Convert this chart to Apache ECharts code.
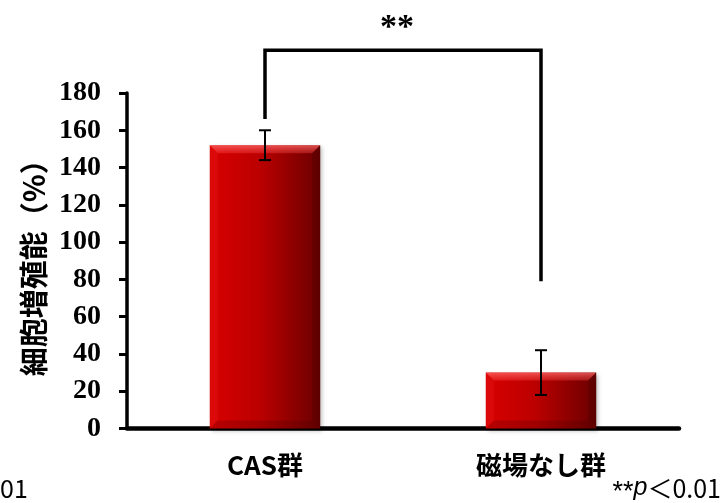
<!DOCTYPE html>
<html>
<head>
<meta charset="utf-8">
<script src="https://cdn.jsdelivr.net/npm/echarts@6/dist/echarts.min.js"></script>
<style>
  html, body { margin: 0; padding: 0; background: #fff; }
  #chart { width: 721px; height: 503px; }
</style>
</head>
<body>
<div id="chart"></div>
<script>
// Cell proliferation by group (mean ± error)
const categories = ['CAS群', '磁場なし群'];
const values = [152, 30];
const errors = [8, 12];

// Y axis scale
const yMin = 0;
const yMax = 180;
const yStep = 20;

// Significance bracket: height of the bar and where each leg ends (axis units)
const bracketTop = 203;
const bracketLegEnds = [166, 79];
const bracketMark = '**';
const bracketMarkLevel = 215;

const chart = echarts.init(document.getElementById('chart'), null, { renderer: 'canvas' });

const serifBold = { fontFamily: '"Liberation Serif", "Times New Roman", serif', fontWeight: 'bold' };
const gothic = '"Noto Sans CJK JP", "Noto Sans", sans-serif';

const barGradient = new echarts.graphic.LinearGradient(0, 0, 1, 0, [
  { offset: 0, color: '#d80000' },
  { offset: 0.45, color: '#bb0000' },
  { offset: 1, color: '#6a0000' }
]);

chart.setOption({
  animation: false,
  backgroundColor: '#ffffff',
  grid: { left: 127, right: 42, top: 93, bottom: 74.5, containLabel: false },
  xAxis: {
    type: 'category',
    data: categories,
    axisLine: { show: true, lineStyle: { color: '#000', width: 4.5 } },
    axisTick: { show: false },
    axisLabel: {
      color: '#000', fontSize: 26, fontWeight: 'bold', fontFamily: gothic,
      margin: 24
    },
    splitLine: { show: false }
  },
  yAxis: {
    type: 'value',
    min: yMin, max: yMax, interval: yStep,
    name: '細胞増殖能（%）',
    nameLocation: 'middle',
    nameGap: 74,
    nameRotate: 90,
    nameTextStyle: { color: '#000', fontSize: 29, fontWeight: 'bold', fontFamily: gothic },
    axisLine: { show: true, lineStyle: { color: '#000', width: 3.5 } },
    axisTick: { show: true, inside: false, length: 8, lineStyle: { color: '#000', width: 3 } },
    axisLabel: Object.assign({ color: '#000', fontSize: 28, margin: 26 }, serifBold),
    splitLine: { show: false }
  },
  series: [
    {
      type: 'bar',
      data: values,
      barWidth: '40%',
      itemStyle: {
        color: barGradient,
        shadowColor: 'rgba(0,0,0,0.25)',
        shadowBlur: 4,
        shadowOffsetX: 2,
        shadowOffsetY: 2
      },
      z: 2
    },
    {
      // bevel shading on each bar
      type: 'custom',
      data: values.map((v, i) => [i, v]),
      z: 3,
      silent: true,
      renderItem: function (params, api) {
        const i = api.value(0);
        const top = api.coord([i, api.value(1)]);
        const bot = api.coord([i, 0]);
        const w = api.size([1, 0])[0] * 0.4;
        const x0 = top[0] - w / 2, x1 = top[0] + w / 2;
        const y0 = top[1], y1 = bot[1];
        const b = 8;
        return {
          type: 'group',
          children: [
            {
              type: 'polygon',
              shape: { points: [[x0, y0], [x1, y0], [x1 - b, y0 + b], [x0 + b, y0 + b]] },
              style: {
                fill: new echarts.graphic.LinearGradient(0, 0, 0, 1, [
                  { offset: 0, color: 'rgba(255,110,110,0.75)' },
                  { offset: 1, color: 'rgba(255,70,70,0.35)' }
                ])
              }
            },
            {
              type: 'polygon',
              shape: { points: [[x0, y0], [x0 + b, y0 + b], [x0 + b, y1 - b], [x0, y1]] },
              style: { fill: 'rgba(255,60,60,0.15)' }
            },
            {
              type: 'polygon',
              shape: { points: [[x1, y0], [x1 - b, y0 + b], [x1 - b, y1 - b], [x1, y1]] },
              style: { fill: 'rgba(40,0,0,0.2)' }
            },
            {
              type: 'polygon',
              shape: { points: [[x0, y1], [x0 + b, y1 - b], [x1 - b, y1 - b], [x1, y1]] },
              style: { fill: 'rgba(60,0,0,0.2)' }
            }
          ]
        };
      }
    },
    {
      // error bars
      type: 'custom',
      data: values.map((v, i) => [i, v, errors[i]]),
      z: 4,
      silent: true,
      renderItem: function (params, api) {
        const i = api.value(0), v = api.value(1), e = api.value(2);
        const hi = api.coord([i, v + e]);
        const lo = api.coord([i, v - e]);
        const c = 6;
        const st = { stroke: '#000', lineWidth: 2 };
        return {
          type: 'group',
          children: [
            { type: 'line', shape: { x1: hi[0], y1: hi[1], x2: lo[0], y2: lo[1] }, style: st },
            { type: 'line', shape: { x1: hi[0] - c, y1: hi[1], x2: hi[0] + c, y2: hi[1] }, style: st },
            { type: 'line', shape: { x1: lo[0] - c, y1: lo[1], x2: lo[0] + c, y2: lo[1] }, style: st }
          ]
        };
      }
    },
    {
      // significance bracket between the two groups
      type: 'custom',
      data: [[0, 1, bracketTop, bracketLegEnds[0], bracketLegEnds[1]]],
      z: 5,
      silent: true,
      clip: false,
      renderItem: function (params, api) {
        const a = api.coord([api.value(0), api.value(3)]);
        const b = api.coord([api.value(1), api.value(4)]);
        const ta = api.coord([api.value(0), api.value(2)]);
        const tb = api.coord([api.value(1), api.value(2)]);
        const markY = api.coord([api.value(0), bracketMarkLevel])[1];
        const midX = (ta[0] + tb[0]) / 2;
        return {
          type: 'group',
          children: [
            {
              type: 'polyline',
              shape: { points: [a, ta, tb, b] },
              style: { stroke: '#000', lineWidth: 3.5, fill: null, lineJoin: 'miter' }
            },
            {
              type: 'text',
              x: midX - 6, y: markY,
              style: {
                text: bracketMark, fill: '#000', fontSize: 34, fontWeight: 'bold',
                fontFamily: '"Liberation Serif", serif',
                align: 'center', verticalAlign: 'middle'
              }
            }
          ]
        };
      }
    }
  ],
  graphic: [
    {
      type: 'text', left: 0, top: 476,
      style: { text: '01', fill: '#000', fontSize: 25, fontFamily: gothic }
    },
    {
      type: 'text', right: 0, top: 476,
      style: {
        text: '{s|**}{p|p}＜0.01',
        fill: '#000', fontSize: 25, fontFamily: gothic,
        rich: {
          s: { fontSize: 27, fontFamily: '"Liberation Sans", sans-serif', padding: [8, 0, 0, 0] },
          p: { fontStyle: 'italic', fontSize: 25, fontFamily: '"Liberation Sans", sans-serif' }
        }
      }
    }
  ]
});
</script>
</body>
</html>
